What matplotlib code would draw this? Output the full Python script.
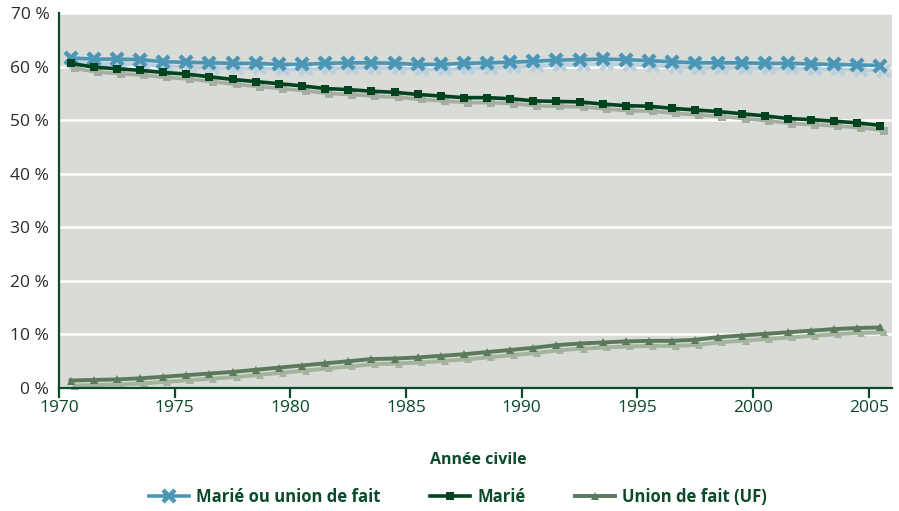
import matplotlib
matplotlib.use("Agg")
import matplotlib.pyplot as plt
import matplotlib.transforms as mtransforms
from matplotlib.lines import Line2D

years = [1970.5 + i for i in range(36)]

marie_ou_uf = [61.6, 61.4, 61.4, 61.3, 60.9, 60.8, 60.7, 60.6, 60.6, 60.4, 60.4, 60.6,
               60.7, 60.7, 60.6, 60.4, 60.4, 60.6, 60.7, 60.8, 61.0, 61.2, 61.3, 61.4,
               61.3, 61.1, 60.9, 60.7, 60.7, 60.7, 60.6, 60.6, 60.5, 60.4, 60.3, 60.2]
marie = [60.6, 59.9, 59.6, 59.3, 58.9, 58.6, 58.1, 57.6, 57.2, 56.8, 56.4, 55.9,
         55.7, 55.4, 55.2, 54.8, 54.5, 54.2, 54.2, 54.0, 53.6, 53.5, 53.4, 53.0,
         52.7, 52.6, 52.2, 51.9, 51.6, 51.2, 50.8, 50.3, 50.1, 49.8, 49.5, 49.0]
union_fait = [1.4, 1.5, 1.6, 1.8, 2.1, 2.4, 2.7, 3.0, 3.4, 3.8, 4.2, 4.6,
              5.0, 5.4, 5.5, 5.7, 6.0, 6.3, 6.7, 7.1, 7.5, 8.0, 8.3, 8.5,
              8.7, 8.8, 8.8, 9.0, 9.5, 9.8, 10.1, 10.4, 10.7, 11.0, 11.2, 11.3]

labels = ["Marié ou union de fait", "Marié", "Union de fait (UF)"]
xticks = [1970, 1975, 1980, 1985, 1990, 1995, 2000, 2005]
yticks = [0, 10, 20, 30, 40, 50, 60, 70]

plt.rcParams['font.family'] = ['Open Sans', 'DejaVu Sans']

DKGREEN = "#0b4a2a"
fig = plt.figure(figsize=(8.99, 5.11), dpi=100)
ax = fig.add_axes([59/899, 1-388/511, (892-59)/899, (388-13)/511])
ax.set_facecolor("#d9dbd6")

shadow = mtransforms.offset_copy(ax.transData, fig=fig, x=4, y=-5, units='dots')

styles = [
    dict(data=marie_ou_uf, color="#4b96b5", shadow="#bad0de", marker='x', ms=8, mew=3.2, lw=2.6),
    dict(data=marie, color="#00431f", shadow="#a4ad9f", marker='s', ms=6, mew=0, lw=2.6),
    dict(data=union_fait, color="#5b7a5b", shadow="#a3b39d", marker='^', ms=6, mew=0, lw=2.8),
]

for st in styles:
    ax.plot(years, st['data'], color=st['shadow'], marker=st['marker'], ms=st['ms'],
            mew=st['mew'], lw=st['lw'], transform=shadow, zorder=2, clip_on=False)
for st, lab in zip(styles, labels):
    ax.plot(years, st['data'], color=st['color'], marker=st['marker'], ms=st['ms'],
            mew=st['mew'], lw=st['lw'], zorder=3, clip_on=False, label=lab)

ax.set_xlim(1970, 2006)
ax.set_ylim(0, 70)
ax.set_xticks(xticks)
ax.set_xticklabels([str(x) for x in xticks], color=DKGREEN, fontsize=12.5)
ax.set_yticks(yticks)
ax.set_yticklabels([f"{y} %" for y in yticks], color="#2b2b2b", fontsize=12.5)
ax.tick_params(axis='y', length=0, pad=7)
ax.tick_params(axis='x', length=7, width=1.6, color=DKGREEN, direction='out', pad=2)

ax.grid(axis='y', color='white', lw=1.8, zorder=1)
ax.set_axisbelow(True)
for s in ['top', 'right']:
    ax.spines[s].set_visible(False)
for s in ['left', 'bottom']:
    ax.spines[s].set_color(DKGREEN)
    ax.spines[s].set_linewidth(1.6)
    ax.spines[s].set_zorder(4)

fig.text(478/899, 1-460/511, "Année civile", ha='center', va='center',
         fontsize=11.5, fontweight='bold', color=DKGREEN)

handles = [Line2D([], [], color=st['color'], marker=st['marker'], ms=st['ms'],
                  mew=st['mew'], lw=st['lw']) for st in styles]
leg = fig.legend(handles, labels, loc='center', bbox_to_anchor=(458/899, 1-497/511),
                 ncol=3, frameon=False, handlelength=2.4, columnspacing=3.0,
                 handletextpad=0.4, prop=dict(size=12, weight='bold'))
for t in leg.get_texts():
    t.set_color(DKGREEN)

fig.savefig("out.png", dpi=100)
